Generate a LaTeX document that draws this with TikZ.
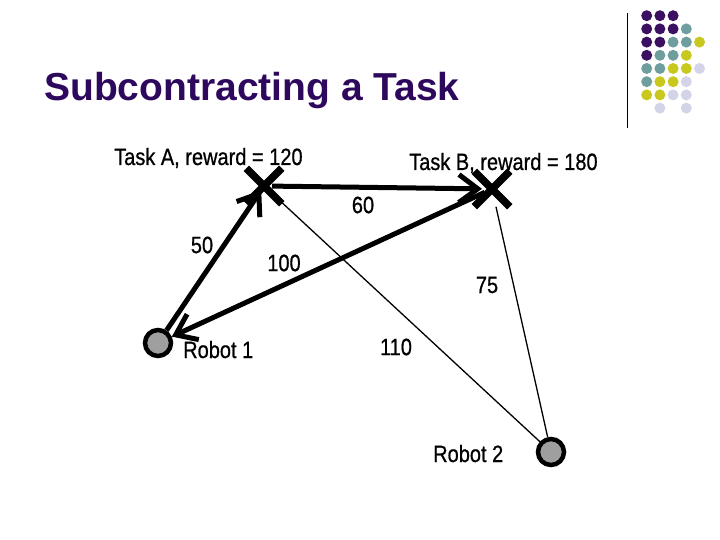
\documentclass[tikz,border=0pt]{standalone}
\usepackage{fontspec}
\setmainfont{Liberation Sans}
\newfontfamily\lblfont[FakeBold=0.8]{Liberation Sans}
\usetikzlibrary{arrows.meta,shapes.misc}

\definecolor{titlepurple}{RGB}{45,8,92}
\definecolor{dotP}{RGB}{60,16,96}
\definecolor{dotT}{RGB}{111,158,158}
\definecolor{dotY}{RGB}{200,200,30}
\definecolor{dotL}{RGB}{212,212,232}

\newcommand{\stretched}[1]{\scalebox{1}[1.18]{#1}}

\tikzset{
  task/.style={cross out, draw, line width=7.5pt, minimum size=28pt, inner sep=0pt},
  robot/.style={circle, draw, line width=4.5pt, fill=gray!75, minimum size=26pt, inner sep=0pt},
  thickarrow/.style={line width=5pt, -{Straight Barb[length=19pt,width=28pt]}},
  thinline/.style={line width=1.3pt},
  lbl/.style={inner sep=0pt, font=\lblfont\fontsize{20}{22}\selectfont}
}

\begin{document}
\begin{tikzpicture}[x=1pt,y=-1pt]
\useasboundingbox (0,0) rectangle (720,540);
% title and corner decoration
\node[anchor=base west, inner sep=0pt, text=titlepurple, font=\fontsize{39}{40}\selectfont\bfseries] (title) at (44,101) {Subcontracting a Task};
\draw[line width=1pt] (627,13) -- (627,128);
\foreach \r/\c/\col in {0/0/dotP,0/1/dotP,0/2/dotP,
  1/0/dotP,1/1/dotP,1/2/dotP,1/3/dotT,
  2/0/dotP,2/1/dotP,2/2/dotT,2/3/dotT,2/4/dotY,
  3/0/dotP,3/1/dotT,3/2/dotT,3/3/dotY,
  4/0/dotT,4/1/dotT,4/2/dotY,4/3/dotY,4/4/dotL,
  5/0/dotT,5/1/dotY,5/2/dotY,5/3/dotL,
  6/0/dotY,6/1/dotY,6/2/dotL,6/3/dotL,
  7/1/dotL,7/3/dotL}
  \fill[\col] (646.7+13.2*\c,15.7+13.2*\r) circle (5.5pt);

% tasks and robots
\node[task] (taskA) at (264,186) {};
\node[task] (taskB) at (492,189) {};
\node[robot] (robot1) at (158,343) {};
\node[robot] (robot2) at (551,452) {};

\node[lbl, anchor=base west] (taskAlbl) at (114,165) {\stretched{Task A, reward = 120}};
\node[lbl, anchor=base west] (taskBlbl) at (409,170) {\stretched{Task B, reward = 180}};
\node[lbl, anchor=base west] (robot1lbl) at (183,358) {\stretched{Robot 1}};
\node[lbl, anchor=base west] (robot2lbl) at (433,462) {\stretched{Robot 2}};

% connectors
\draw[thinline] (taskA) -- (robot2);
\draw[thinline] (taskB) -- (robot2);
\draw[thickarrow, shorten >=5pt] (robot1) -- (taskA.center);
\draw[thickarrow, shorten <=8pt, shorten >=10pt] (taskA.center) -- (taskB.center);
\draw[thickarrow, shorten <=8pt] (taskB.center) -- (robot1);

% costs
\node[lbl] (c50) at (202,245) {\stretched{50}};
\node[lbl] (c60) at (363,205) {\stretched{60}};
\node[lbl] (c100) at (284,263) {\stretched{100}};
\node[lbl] (c75) at (487,285) {\stretched{75}};
\node[lbl] (c110) at (396,347) {\stretched{110}};
\end{tikzpicture}
\end{document}
